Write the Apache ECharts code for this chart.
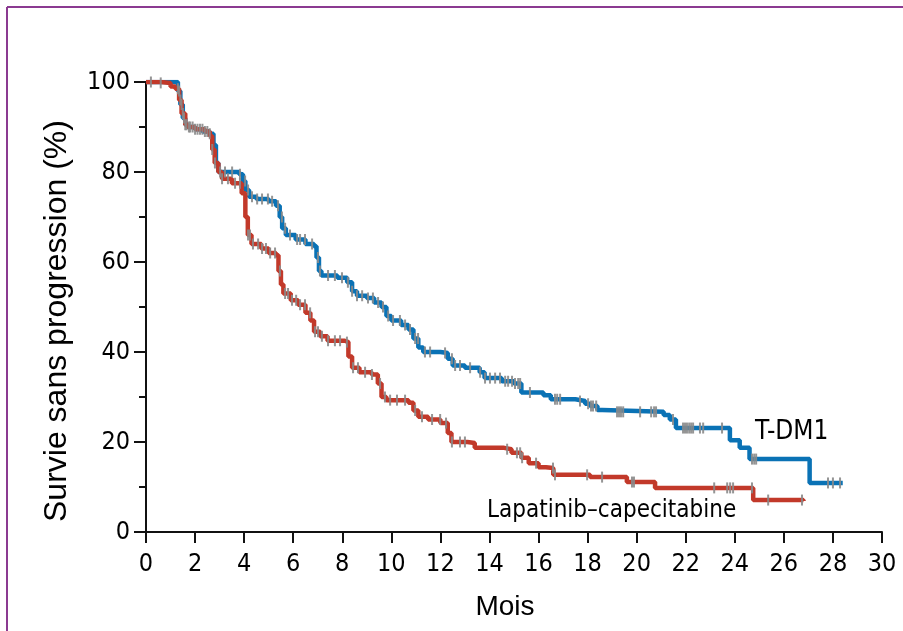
<!DOCTYPE html>
<html><head><meta charset="utf-8">
<script src="https://cdn.jsdelivr.net/npm/echarts@6/dist/echarts.min.js"></script>
<style>html,body{margin:0;padding:0;background:#fff}#c{width:903px;height:631px}</style>
</head><body><div id="c"></div>
<script>
// ---- data ----
const xTicks = [0,2,4,6,8,10,12,14,16,18,20,22,24,26,28,30];
const yTicks = [0,20,40,60,80,100];

const tdm1Time = [0,1.2,1.3,1.4,1.5,1.6,1.7,2.0,2.3,2.6,2.75,2.85,2.95,3.8,3.95,4.05,4.2,4.5,5.0,5.3,5.45,5.55,5.7,6.1,6.5,6.85,6.95,7.05,7.15,7.8,8.2,8.4,8.6,9.0,9.3,9.6,9.8,10.0,10.4,10.7,10.9,11.1,11.3,12.0,12.3,12.5,13.0,13.6,13.8,14.5,15.0,15.3,16.2,16.5,17.5,17.9,18.1,18.4,18.6,21.1,21.35,21.6,23.8,24.2,24.6,27.05,28.4];
const tdm1Surv = [100,100,98,95,92,90.5,90,89.5,89,88.5,86,82,80,79.5,78,76,74.5,74,73.5,72.5,70,67.5,66,65,64,63.5,61,58,57,56.5,55.5,53.5,52.5,52,51,50,48,47,46,45,43,41,40,39.8,38.5,37,36.5,35.5,34.2,33.5,33,31,30.4,29.5,29.1,28.5,28,27.1,26.7,26,25,23.1,20.4,18.7,16.2,10.9,10.9];

const lapTime = [0,0.6,1.0,1.2,1.35,1.45,1.6,1.7,2.0,2.4,2.6,2.7,2.8,2.95,3.1,3.5,3.9,4.05,4.15,4.3,4.7,5.0,5.3,5.4,5.5,5.6,5.9,6.2,6.5,6.7,6.85,7.1,7.4,8.1,8.25,8.4,8.7,9.2,9.45,9.6,9.8,10.7,10.9,11.1,11.5,12.0,12.3,12.45,13.1,13.4,14.6,14.9,15.3,15.6,16.0,16.3,16.6,18.1,19.6,20.75,24.75,26.8];
const lapSurv = [100,99.8,99,98.5,96,93,90.5,90,89.5,89,88,85,82,80,78.5,77.5,75.3,70,66,64,63,62,61.5,58,55,53,51.5,50.5,48.7,47,44.5,43.5,42.5,42.2,39,36.5,35.5,35,33,30,29.3,28.7,27,25.6,25,24.2,22,20,19.8,18.7,18.4,17.6,16.5,15.3,14.4,14.2,12.7,12.2,11.1,9.8,7.1,6.9];

const tdm1Censor = [1.35,1.45,1.55,1.65,1.8,2.0,2.2,2.4,2.6,3.02,3.22,3.51,3.83,4.04,4.16,4.32,4.53,4.73,4.97,5.14,5.38,5.54,5.67,5.87,6.16,6.28,6.48,6.77,7.01,7.09,7.42,7.7,7.99,8.23,8.4,8.6,8.81,9.05,9.25,9.46,9.66,9.87,10.07,10.35,10.56,10.76,10.97,11.09,11.37,11.58,12.19,12.47,12.6,12.8,13.21,13.62,13.82,14.02,14.23,14.43,14.64,14.76,14.92,15.04,15.17,15.25,15.65,16.67,16.76,16.88,17.69,18.02,18.14,18.22,18.35,19.2,19.28,19.36,19.45,20.14,20.59,20.71,20.79,21.48,21.89,21.97,22.05,22.14,22.22,22.3,22.58,22.71,23.48,24.7,24.79,24.87,27.8,28.0,28.29];
const lapCensor = [0.2,0.6,1.3,1.4,1.5,1.6,1.75,1.9,2.1,2.3,2.5,2.7,2.81,3.1,3.34,3.63,3.83,4.16,4.24,4.36,4.57,4.73,4.89,5.06,5.26,5.46,5.67,5.79,5.95,6.12,6.28,6.48,6.69,6.89,7.01,7.17,7.42,7.7,7.91,8.19,8.44,8.64,8.93,9.21,9.54,9.74,9.95,10.23,10.56,10.97,11.25,11.66,11.99,12.23,12.47,12.8,13.0,14.72,15.12,15.25,15.33,15.9,16.59,16.67,17.98,18.59,19.81,19.89,23.16,23.69,23.81,23.93,24.7,25.36,26.74];

// ---- helpers ----
function pairs(t, s){ return t.map((v,i)=>[v, s[i]]); }
function survAt(t, times, surv){
  let v = surv[0];
  for (let i=0;i<times.length;i++){ if (times[i] <= t) v = surv[i]; else break; }
  return v;
}
function censorPts(c, times, surv){ return c.map(t=>[t, survAt(t, times, surv)]); }

const BLUE = '#0a72b5', RED = '#c2392a', GRAY = '#8a8a8a';
const tickFont = "'DejaVu Sans Condensed', 'DejaVu Sans', sans-serif";

const chart = echarts.init(document.getElementById('c'), null, {renderer:'canvas'});
chart.setOption({
  animation: false,
  backgroundColor: '#fff',
  grid: {left:146, right:21, top:82, bottom:99},
  xAxis: {
    type:'value', min:0, max:30, interval:2,
    axisLine:{show:true, lineStyle:{color:'#111', width:2}},
    axisTick:{show:true, length:11, lineStyle:{color:'#111', width:2}},
    axisLabel:{color:'#000', fontSize:25, fontFamily:tickFont, margin:20,
      formatter: v => xTicks.includes(v) ? String(v) : ''},
    splitLine:{show:false}
  },
  yAxis: {
    type:'value', min:0, max:100, interval:20,
    axisLine:{show:true, lineStyle:{color:'#111', width:2}},
    axisTick:{show:true, length:12, lineStyle:{color:'#111', width:2}},
    minorTick:{show:true, splitNumber:2, length:7, lineStyle:{color:'#111', width:2}},
    axisLabel:{color:'#000', fontSize:25, fontFamily:tickFont, margin:16,
      formatter: v => yTicks.includes(v) ? String(v) : ''},
    splitLine:{show:false}
  },
  series: [
    {type:'line', name:'T-DM1', step:'end', symbol:'none', data:pairs(tdm1Time, tdm1Surv),
      lineStyle:{color:BLUE, width:4.5}, z:2},
    {type:'line', name:'Lapatinib–capecitabine', step:'end', symbol:'none', data:pairs(lapTime, lapSurv),
      lineStyle:{color:RED, width:4.5}, z:3},
    {type:'scatter', data:censorPts(tdm1Censor, tdm1Time, tdm1Surv), symbol:'rect', symbolSize:[2,11],
      itemStyle:{color:GRAY, opacity:0.9}, z:4},
    {type:'scatter', data:censorPts(lapCensor, lapTime, lapSurv), symbol:'rect', symbolSize:[2,11],
      itemStyle:{color:GRAY, opacity:0.9}, z:5}
  ],
  graphic: [
    {type:'line', shape:{x1:7, y1:7, x2:903, y2:7}, style:{stroke:'#8b3a91', lineWidth:2}},
    {type:'line', shape:{x1:7, y1:7, x2:7, y2:631}, style:{stroke:'#8b3a91', lineWidth:2}},
    {type:'text', x:57, y:321, rotation:Math.PI/2,
      style:{text:'Survie sans progression (%)', font:"32px 'Liberation Sans', Arial, sans-serif", fill:'#000', align:'center', verticalAlign:'middle'}},
    {type:'text', x:505, y:607,
      style:{text:'Mois', font:"28px 'Liberation Sans', Arial, sans-serif", fill:'#000', align:'center', verticalAlign:'middle'}},
    {type:'text', x:755, y:445,
      style:{text:'T-DM1', font:"26px " + tickFont, fill:'#000', align:'left', verticalAlign:'bottom'}},
    {type:'text', x:487, y:523,
      style:{text:'Lapatinib–capecitabine', font:"24px " + tickFont, fill:'#000', align:'left', verticalAlign:'bottom'}}
  ]
});
</script>
</body></html>
